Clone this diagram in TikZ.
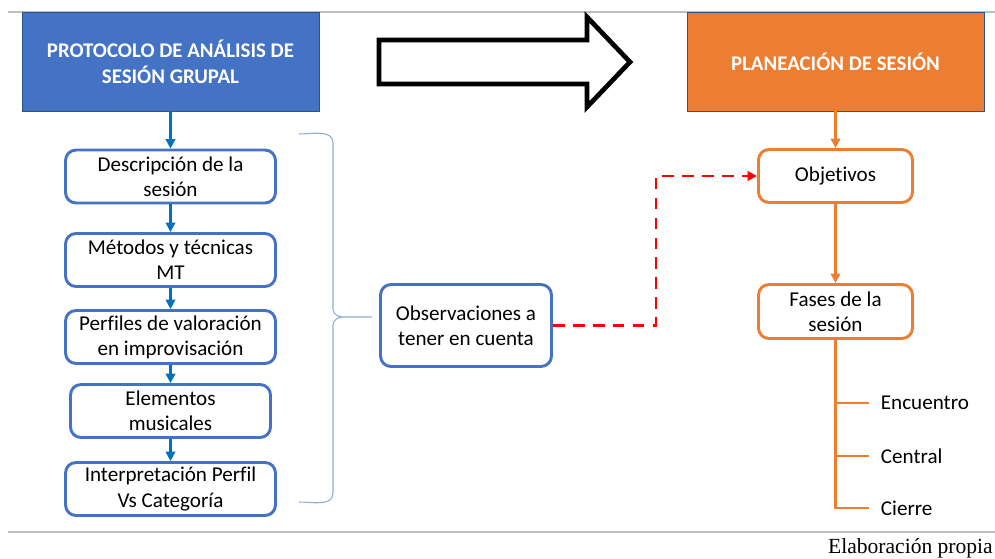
\documentclass[tikz,border=0pt]{standalone}
\usepackage{fontspec}
\setmainfont{Carlito}[Ligatures=NoCommon]
\newfontfamily\sourcefont{Liberation Serif}
\usepackage{tikz}
\usetikzlibrary{positioning, arrows.meta}
\definecolor{hblue}{HTML}{4472C4}
\definecolor{hedge}{HTML}{2F528F}
\definecolor{horange}{HTML}{ED7D31}
\definecolor{lblue}{HTML}{0070C0}
\definecolor{bracec}{HTML}{8EAADB}
\definecolor{ruleg}{HTML}{BFBFBF}
\tikzset{
x=0.03cm, y=-0.03cm, % one unit is one pixel of the reference
header/.style={draw=hedge, line width=0.8pt, text=white, align=center, font=\bfseries\fontsize{17.8}{22.5}\selectfont, minimum width=8.91cm, minimum height=2.97cm, inner sep=0pt}, % the two coloured titles
blue/.style={draw=hblue, line width=2.5pt, rounded corners=9pt, fill=white, align=center, font=\fontsize{18}{21.5}\selectfont, minimum width=6.3cm, minimum height=1.59cm, inner sep=0pt},
orange/.style={blue, draw=horange},
leaf/.style={anchor=west, font=\fontsize{18}{21.5}\selectfont, inner sep=0pt, xshift=10pt},
}
\begin{document}
\begin{tikzpicture}[bluearr/.style={draw=lblue, line width=2.4pt, -{Triangle[length=8pt, width=8pt]}}, orangearr/.style={draw=horange, line width=2.4pt, -{Triangle[length=8pt, width=8pt]}}]
    \useasboundingbox (0,0) rectangle (995,559);
    \draw[ruleg, line width=1.7pt] (8,12) -- (995,12);
    \draw[ruleg, line width=1.7pt] (8,532) -- (995,532);
    \node[header, fill=hblue] (proto) at (170.5,61.5) {PROTOCOLO DE ANÁLISIS DE\\SESIÓN GRUPAL};
    \node[header, fill=horange] (plan) at (835.5,61.5) {PLANEACIÓN DE SESIÓN};
    % big arrow between the titles
    \draw[line width=4pt, line join=miter] (379,40) -- (587,40) -- (587,17) -- (630,62) -- (587,107) -- (587,84) -- (379,84) -- cycle;
    \node[blue] (desc) at (170.5,176.5) {Descripción de la\\sesión};
    \node[blue] (met) at (170.5,260) {Métodos y técnicas\\MT};
    \node[blue] (perf) at (170.5,337) {Perfiles de valoración\\en improvisación};
    \node[blue, minimum width=6cm] (elem) at (170.5,411) {Elementos\\musicales};
    \node[blue] (interp) at (170.5,489) {Interpretación Perfil\\Vs Categoría};
    \node[blue, minimum width=5.13cm, minimum height=2.46cm] (obs) at (466,325.5) {Observaciones a\\tener en cuenta};
    \node[orange, minimum width=4.62cm] (obj) at (835.5,176) {Objetivos};
    \node[orange, minimum width=4.62cm, minimum height=1.62cm] (fases) at (835.5,311.5) {Fases de la\\sesión};
    \node[leaf] (enc) at (869,403) {Encuentro};
    \node[leaf] (cen) at (869,456) {Central};
    \node[leaf] (cie) at (869,508) {Cierre};
    \node[anchor=base east, font=\sourcefont\fontsize{18.4}{20}\selectfont, inner sep=0pt] (src) at (993,553) {Elaboración propia};
    \draw[bluearr] (proto.south) -- (desc.north);
    \draw[bluearr] (desc.south) -- (met.north);
    \draw[bluearr] (met.south) -- (perf.north);
    \draw[bluearr] (perf.south) -- (elem.north);
    \draw[bluearr] (elem.south) -- (interp.north);
    % brace
    \coordinate (tip) at (372,317);
    \draw[bracec, line width=0.9pt] (299,134) to[out=0, in=90] (333,143) -- (333,309) to[out=-90, in=180] (343,317) -- (tip) -- (343,317) to[out=180, in=90] (333,325) -- (333,493) to[out=-90, in=0] (299,502);
    \draw[red, line width=2.5pt, dash pattern=on 10pt off 7pt, -{Triangle[length=8pt, width=8pt]}] (obs.east) -- ++(103,0) |- (obj.west);
    \draw[orangearr] (plan.south) -- (obj.north);
    \draw[orangearr] (obj.south) -- (fases.north);
    \draw[horange, line width=2.5pt] (fases.south) |- ([xshift=-10pt]enc.west);
    \draw[horange, line width=2.5pt] (fases.south) |- ([xshift=-10pt]cen.west);
    \draw[horange, line width=2.5pt] (fases.south) |- ([xshift=-10pt]cie.west);
\end{tikzpicture}
\end{document}
